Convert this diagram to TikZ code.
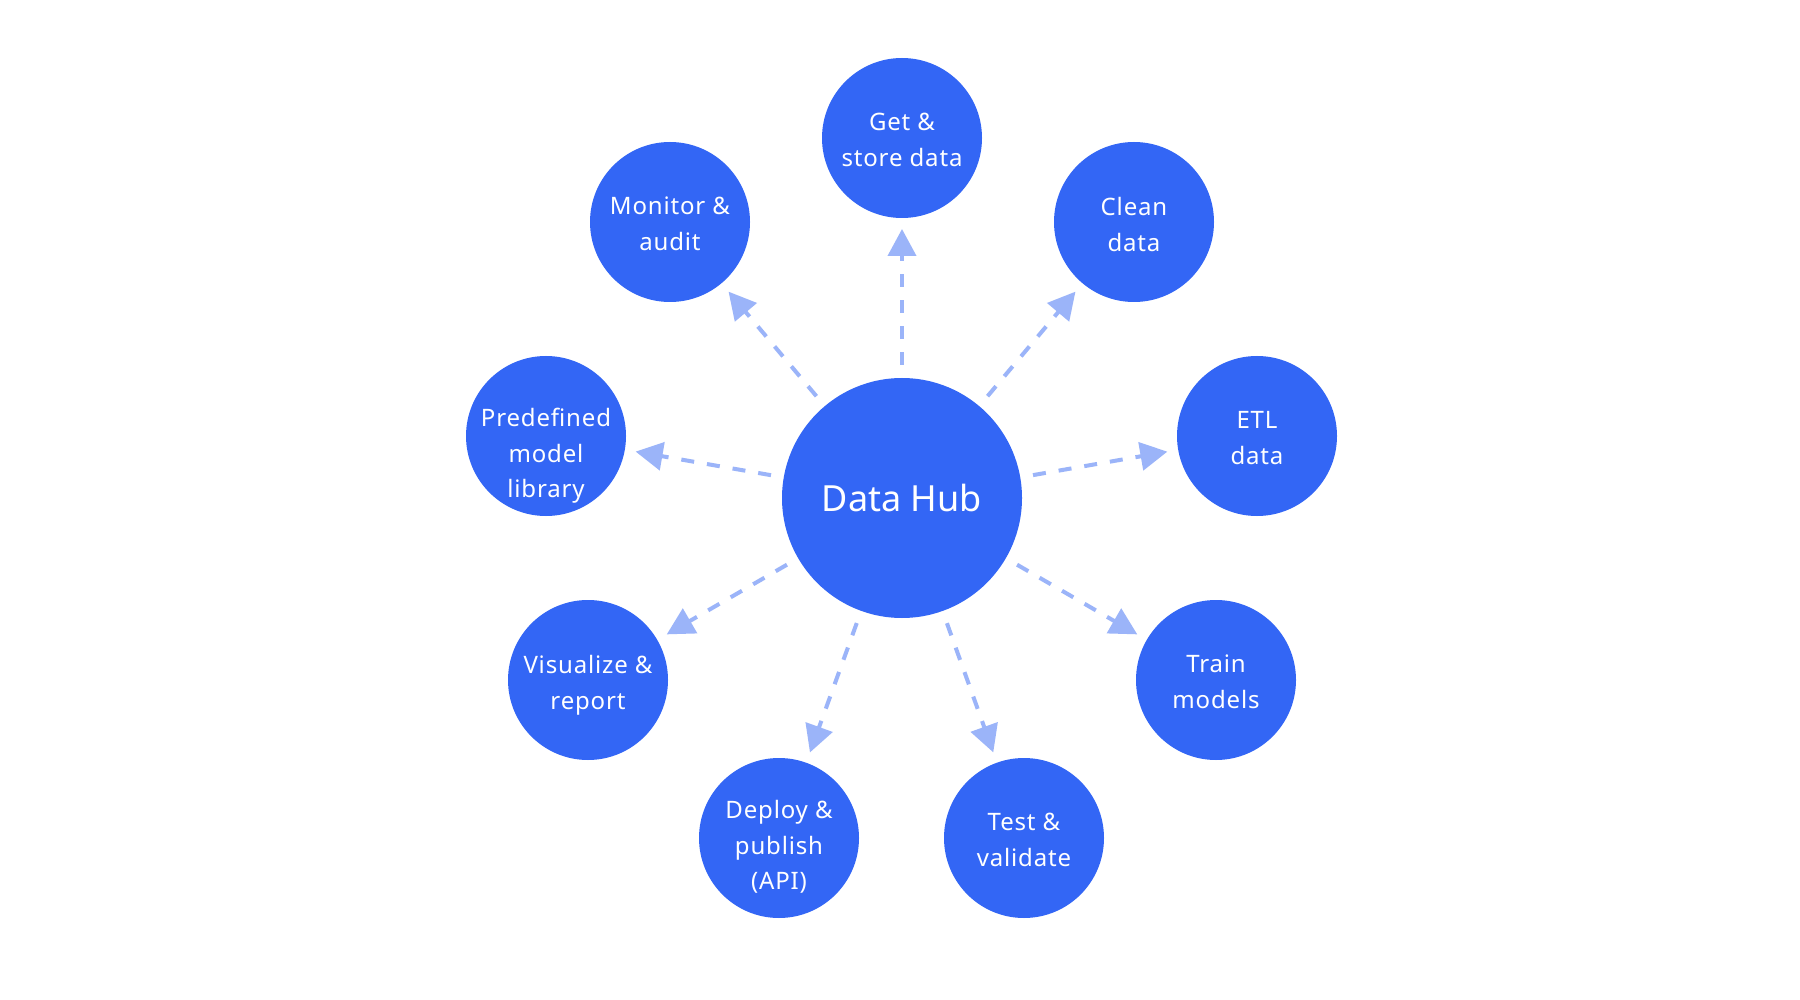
\documentclass[tikz,border=0pt]{standalone}
\usepackage{fontspec}
\setmainfont{Noto Sans}
\usetikzlibrary{arrows.meta,calc}
\definecolor{hubblue}{HTML}{3366F5}
\definecolor{arrowblue}{HTML}{9BB4F9}
\begin{document}
\begin{tikzpicture}[x=1pt,y=-1pt,
  bubble/.style={circle,fill=hubblue,draw=none,minimum size=160pt,inner sep=0pt},
  bigbubble/.style={circle,fill=hubblue,draw=none,minimum size=240pt,inner sep=0pt,text=white,font=\fontsize{36}{40}\selectfont},
  lbl/.style={text=white,align=center,font=\addfontfeature{LetterSpace=3.5}\fontsize{24}{35.8}\selectfont,inner sep=0pt,text depth=0pt,yshift=-2pt},
  flow/.style={draw=arrowblue,line width=4pt,dash pattern=on 13pt off 13pt,-{Triangle[length=27pt,width=28pt]}}
]
\useasboundingbox (0,0) rectangle (1800,1000);
\fill[white] (0,0) rectangle (1800,1000);

\node[bigbubble] (hub) at (902,498) {Data Hub};

\node[bubble] (get)  at (902,138) {};
\node[bubble] (mon)  at (670,222) {};
\node[bubble] (cln)  at (1134,222) {};
\node[bubble] (pre)  at (546,436) {};
\node[bubble] (etl)  at (1257,436) {};
\node[bubble] (vis)  at (588,680) {};
\node[bubble] (trn)  at (1216,680) {};
\node[bubble] (dep)  at (779,838) {};
\node[bubble] (tst)  at (1024,838) {};

\node[lbl] (tget) at (get) {Get \&\\store data};
\node[lbl] (tmon) at (mon) {Monitor \&\\audit};
\node[lbl] (tcln) at (cln) {Clean\\data};
\node[lbl,yshift=-15pt] (tpre) at (pre) {Predefined\\model\\library};
\node[lbl] (tetl) at (etl) {ETL\\data};
\node[lbl] (tvis) at (vis) {Visualize \&\\report};
\node[lbl] (ttrn) at (trn) {Train\\models};
\node[lbl,yshift=-5pt] (tdep) at (dep) {Deploy \&\\publish\\(API)};
\node[lbl] (ttst) at (tst) {Test \&\\validate};

\foreach \t in {get,mon,cln,pre,etl,vis,trn,dep,tst}{
  \draw[flow] ($(hub)!133pt!(\t)$) -- ($(\t)!91pt!(hub)$);
}
\end{tikzpicture}
\end{document}
